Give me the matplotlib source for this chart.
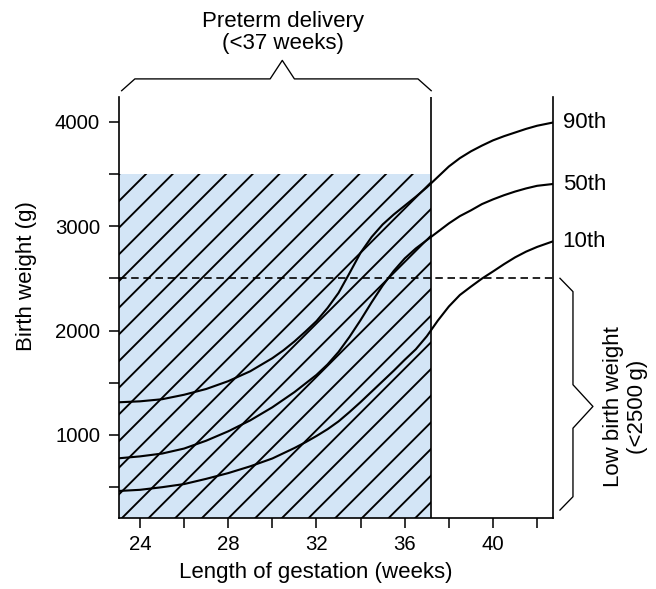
import matplotlib
matplotlib.use('Agg')
import matplotlib.pyplot as plt
import matplotlib.transforms as mtransforms

# percentile curves (weeks, grams)
weeks_90 = [23.05, 24, 25, 26, 27, 28, 29, 30, 30.5, 31, 31.5, 32, 32.5, 33, 33.5, 34,
            34.5, 35, 35.5, 36, 36.5, 37, 37.5, 38, 38.5, 39, 39.5, 40, 40.5, 41, 41.5, 42, 42.7]
grams_90 = [1313, 1322, 1342, 1385, 1440, 1515, 1610, 1735, 1810, 1895, 1990, 2090, 2215, 2360, 2550, 2745,
            2895, 3015, 3110, 3195, 3280, 3370, 3470, 3570, 3650, 3715, 3770, 3820, 3860, 3895, 3930, 3960, 3990]

weeks_50 = [23.05, 24, 25, 26, 27, 28, 29, 30, 31, 32, 32.5, 33, 33.5, 34, 34.5, 35, 35.5,
            36, 36.5, 37, 37.5, 38, 38.5, 39, 39.5, 40, 40.5, 41, 41.5, 42, 42.7]
grams_50 = [777, 795, 822, 870, 945, 1035, 1140, 1265, 1410, 1575, 1675, 1795, 1940, 2100, 2270, 2430, 2570,
            2690, 2785, 2865, 2945, 3025, 3095, 3150, 3210, 3255, 3295, 3330, 3360, 3385, 3402]

weeks_10 = [23.05, 24, 25, 26, 27, 28, 29, 30, 31, 31.5, 32, 32.5, 33, 33.5, 34, 34.5, 35, 35.5,
            36, 36.5, 37, 37.5, 38, 38.5, 39, 39.5, 40, 40.5, 41, 41.5, 42, 42.7]
grams_10 = [464, 475, 500, 530, 580, 635, 700, 775, 875, 930, 990, 1055, 1130, 1220, 1315, 1415, 1515, 1615,
            1720, 1820, 1945, 2095, 2230, 2340, 2420, 2497, 2565, 2635, 2700, 2755, 2800, 2852]

curves = [('90th', weeks_90, grams_90), ('50th', weeks_50, grams_50), ('10th', weeks_10, grams_10)]

preterm_cut = 37.2      # weeks
lbw_cut = 2500          # grams
shade_top = 3500
lbw_brace_low = 281
lbw_brace_mid = 1273

x_major = [24, 28, 32, 36, 40]
x_minor = [26, 30, 34, 38, 42]
y_major = [1000, 2000, 3000, 4000]
y_minor = [500, 1500, 2500, 3500]

x_lim = (23.05, 42.72)
y_lim = (205, 4235)

plt.rcParams['font.family'] = ['Liberation Sans', 'DejaVu Sans']
plt.rcParams['hatch.linewidth'] = 0.85
fs = 10
fs_tick = 9.2

DPI = 160
fig = plt.figure(figsize=(656 / DPI, 589 / DPI), dpi=DPI)
ax = fig.add_axes([0.1814, 0.1205, 0.6616, 0.7148])
ax.set_xlim(*x_lim)
ax.set_ylim(*y_lim)

# preterm shaded block
ax.fill_between([x_lim[0], preterm_cut], y_lim[0], shade_top,
                facecolor='#d3e5f6', edgecolor='black', hatch='//',
                linewidth=0, zorder=1)
ax.axvline(preterm_cut, color='black', lw=0.75, zorder=3)
ax.axhline(lbw_cut, color='black', lw=0.75, ls=(0, (4.5, 2.8)), zorder=3)

for label, wk, g in curves:
    ax.plot(wk, g, color='black', lw=0.95, zorder=4)
    ax.annotate(label, xy=(wk[-1], g[-1]), xytext=(4.5, 0),
                textcoords='offset points', va='center', ha='left',
                fontsize=fs, annotation_clip=False)

# spines and ticks
ax.spines['top'].set_visible(False)
for s in ['left', 'right', 'bottom']:
    ax.spines[s].set_linewidth(0.75)
ax.set_xticks(x_major)
ax.set_xticks(x_minor, minor=True)
ax.set_yticks(y_major)
ax.set_yticks(y_minor, minor=True)
ax.tick_params(which='both', direction='out', length=4.5, width=0.7,
               labelsize=fs_tick)
ax.tick_params(axis='x', pad=3)
ax.tick_params(axis='y', pad=4)
ax.tick_params(which='minor', labelleft=False, labelbottom=False)

ax.set_xlabel('Length of gestation (weeks)', fontsize=fs)
ax.set_ylabel('Birth weight (g)', fontsize=fs)
ax.xaxis.set_label_coords(0.454, -0.104)
ax.yaxis.set_label_coords(-0.19, 0.5736)

# top brace over the preterm range
tr_top = mtransforms.blended_transform_factory(ax.transData, ax.transAxes)
x0, x1, xm = 23.17, preterm_cut, 30.45
ax.plot([x0, x0 + 0.6, xm - 0.55, xm, xm + 0.55, x1 - 0.6, x1],
        [1.015, 1.043, 1.043, 1.087, 1.043, 1.043, 1.015],
        color='black', lw=0.6, transform=tr_top, clip_on=False)
ax.text(30.48, 1.1655, 'Preterm delivery', transform=tr_top,
        ha='center', va='baseline', fontsize=fs)
ax.text(30.48, 1.114, '(<37 weeks)', transform=tr_top,
        ha='center', va='baseline', fontsize=fs)

# right brace for low birth weight
tr_right = mtransforms.blended_transform_factory(ax.transAxes, ax.transData)
ax.plot([1.016, 1.046, 1.046, 1.092, 1.046, 1.046, 1.016],
        [lbw_cut, lbw_cut - 128, lbw_brace_mid + 208, lbw_brace_mid,
         lbw_brace_mid - 208, lbw_brace_low + 128, lbw_brace_low],
        color='black', lw=0.6, transform=tr_right, clip_on=False)
ax.text(1.153, lbw_brace_mid, 'Low birth weight', transform=tr_right,
        rotation=90, rotation_mode='anchor', ha='center', va='baseline', fontsize=fs)
ax.text(1.208, lbw_brace_mid, '(<2500\u2009g)', transform=tr_right,
        rotation=90, rotation_mode='anchor', ha='center', va='baseline', fontsize=fs)

fig.savefig('out.png', dpi=DPI)
